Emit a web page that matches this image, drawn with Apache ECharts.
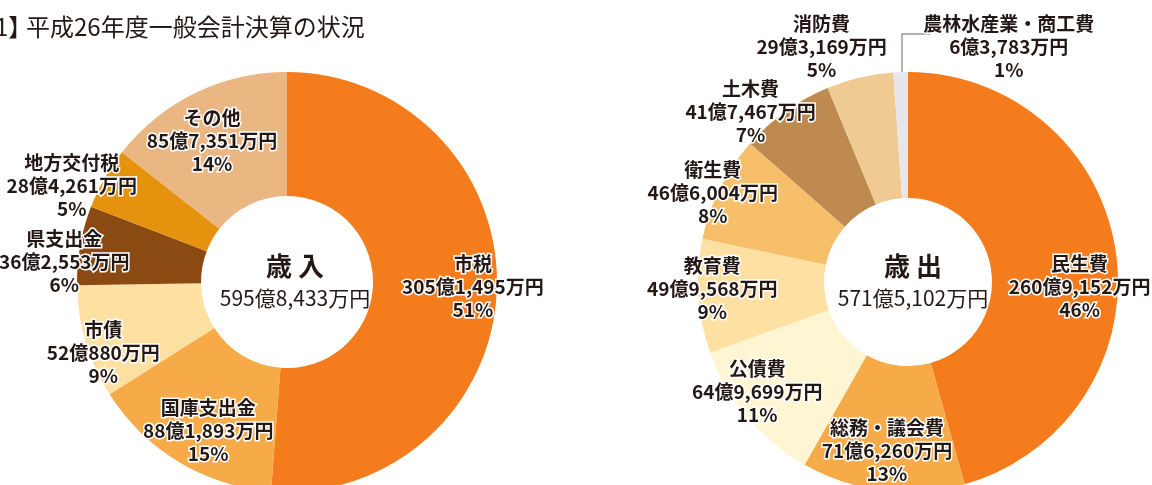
<!DOCTYPE html>
<html>
<head>
<meta charset="utf-8">
<script src="https://cdn.jsdelivr.net/npm/echarts@6/dist/echarts.min.js"></script>
<style>
  html, body { margin: 0; background: #fff; }
  #chart { width: 1152px; height: 485px; }
</style>
</head>
<body>
<div id="chart"></div>
<script>
// 歳入 (単位: 万円)
const revenueNames = ['市税', '国庫支出金', '市債', '県支出金', '地方交付税', 'その他'];
const revenueValues = [3051495, 881893, 520880, 362553, 284261, 857351];
const revenueColors = ['#f57c1c', '#f6aa48', '#fde0a2', '#8a4a12', '#e5930f', '#eab682'];
// 歳出 (単位: 万円)
const expenseNames = ['民生費', '総務・議会費', '公債費', '教育費', '衛生費', '土木費', '消防費', '農林水産業・商工費'];
const expenseValues = [2609152, 716260, 649699, 499568, 466004, 417467, 293169, 63783];
const expenseColors = ['#f57c1c', '#f6aa48', '#fef5d2', '#fde0a2', '#f7bf6a', '#bf8a4f', '#efca92', '#e6e6ec'];

// label shifts from the ring middle (layout only)
const revenueLabelShift = [[35, -1], [-1, 19], [-39, 28], [-74, 6], [-84, -22], [-9, -5]];
const expenseLabelShift = [[23, 25], [-3, 20], [-36, 13], [-46, -3], [-61, -22], [-70, -48], [-52, -89], [106, -85]];

function yen(v) {
  let oku = Math.floor(v / 10000), man = v % 10000;
  return oku + '億' + man.toLocaleString('en-US') + '万円';
}
function sum(arr) { return arr.reduce((a, b) => a + b, 0); }

const FONT = '"Noto Sans CJK JP", sans-serif';

function makeSeries(names, values, colors, shift, center, radius) {
  let total = sum(values);
  return {
    type: 'pie',
    center: center,
    radius: radius,
    startAngle: 90,
    clockwise: true,
    silent: true,
    avoidLabelOverlap: false,
    itemStyle: { borderWidth: 0 },
    label: {
      show: true,
      position: 'inside',
      formatter: p => p.name + '\n' + yen(p.value) + '\n' + Math.round(p.value / total * 100) + '%',
      fontFamily: FONT,
      fontSize: 19,
      fontWeight: 'bold',
      lineHeight: 23,
      color: '#231815',
      textBorderColor: '#fff',
      textBorderWidth: 3
    },
    labelLine: { show: false },
    labelLayout: p => ({ dx: shift[p.dataIndex][0], dy: shift[p.dataIndex][1] }),
    data: names.map((n, i) => ({ name: n, value: values[i], itemStyle: { color: colors[i] } }))
  };
}

let chart = echarts.init(document.getElementById('chart'));
let centerText = (title, total, x) => ({
  text: '{a|' + title + '}\n{b|' + yen(total) + '}',
  left: x,
  top: 244,
  textAlign: 'center',
  textStyle: {
    rich: {
      a: { fontFamily: FONT, fontSize: 26, fontWeight: 'bold', color: '#231815', lineHeight: 34 },
      b: { fontFamily: FONT, fontSize: 21, fontWeight: 'normal', color: '#231815', lineHeight: 30 }
    }
  }
});
let titleStyle = { fontFamily: FONT, fontSize: 24, fontWeight: 'normal', color: '#231815' };

let option = {
  animation: false,
  title: [
    { text: '1】', left: -10, top: 10, textStyle: titleStyle },
    { text: '平成26年度一般会計決算の状況', left: 21, top: 10, textStyle: titleStyle },
    centerText('歳 入', sum(revenueValues), 290),
    centerText('歳 出', sum(expenseValues), 908)
  ],
  graphic: [
    {
      type: 'polyline',
      silent: true,
      shape: { points: [[902, 72], [902, 34], [930, 34]] },
      style: { stroke: '#9a9a9a', lineWidth: 1.5, fill: null }
    }
  ],
  series: [
    makeSeries(revenueNames, revenueValues, revenueColors, revenueLabelShift, [287, 282], [86, 210]),
    makeSeries(expenseNames, expenseValues, expenseColors, expenseLabelShift, [908, 282], [84, 210])
  ]
};
chart.setOption(option);
</script>
</body>
</html>
